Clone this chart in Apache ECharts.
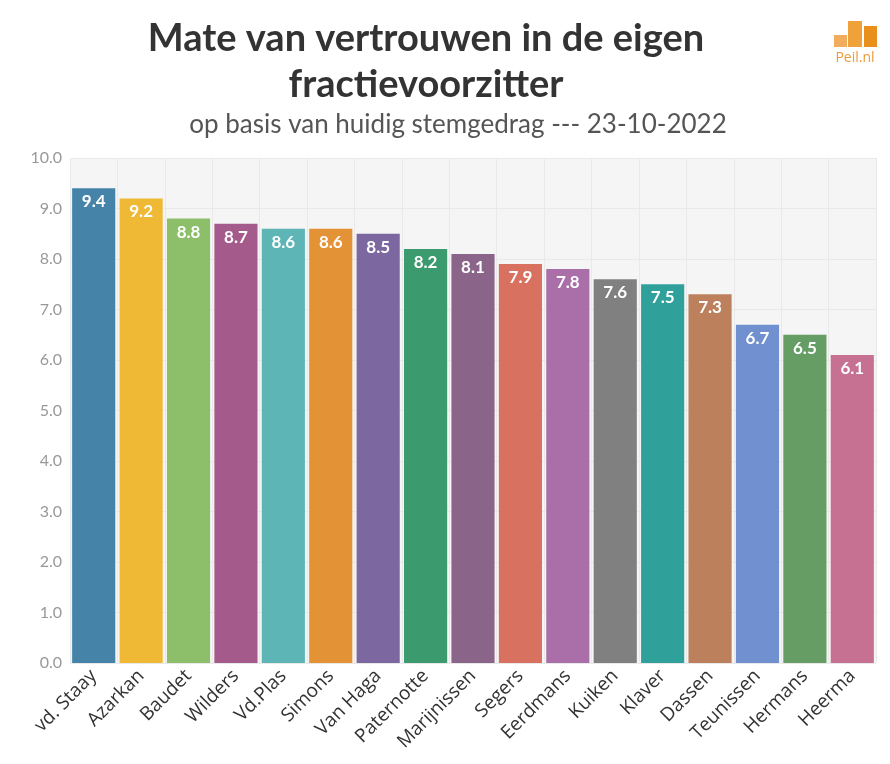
<!DOCTYPE html>
<html><head><meta charset="utf-8">
<script src="https://cdn.jsdelivr.net/npm/echarts@6/dist/echarts.min.js"></script>
<style>html,body{margin:0;padding:0;background:#fff}#c{width:890px;height:764px}</style>
</head><body><div id="c"></div>
<script>
const categories = ["vd. Staay","Azarkan","Baudet","Wilders","Vd.Plas","Simons","Van Haga","Paternotte","Marijnissen","Segers","Eerdmans","Kuiken","Klaver","Dassen","Teunissen","Hermans","Heerma"];
const values = [9.4,9.2,8.8,8.7,8.6,8.6,8.5,8.2,8.1,7.9,7.8,7.6,7.5,7.3,6.7,6.5,6.1];
const colors = ["#4583A8","#EFB935","#8DBE6A","#A45A8A","#5DB5B5","#E39236","#7D67A1","#3C9A6F","#8A6589","#D87160","#AA6EA8","#808080","#30A19A","#BC805D","#7090CF","#659D64","#C77192"];
const yTicks = [0,1,2,3,4,5,6,7,8,9,10];

const chart = echarts.init(document.getElementById('c'), null, {renderer:'canvas'});
chart.setOption({
  animation:false,
  title:[
    {text:"Mate van vertrouwen in de eigen\nfractievoorzitter", left:421, top:11, textAlign:'center',
     textStyle:{fontFamily:'Lato', fontWeight:'bold', fontSize:38, color:'#333', lineHeight:46}},
    {text:"op basis van huidig stemgedrag --- 23-10-2022", left:453, top:107, textAlign:'center',
     textStyle:{fontFamily:'Lato', fontWeight:'normal', fontSize:26, color:'#555', lineHeight:26}}
  ],
  grid:{left:70, right:14, top:158, bottom:101, show:true, backgroundColor:'#f5f5f5', borderWidth:0},
  xAxis:[
    {type:'category', data:categories, axisLine:{show:false}, axisTick:{show:false},
     axisLabel:{rotate:45, margin:10, fontFamily:'Open Sans', fontSize:19, color:'#333', interval:0}},
    {type:'value', min:-0.5, max:16.5, interval:1, show:true, position:'bottom',
     axisLine:{show:false}, axisTick:{show:false}, axisLabel:{show:false},
     splitLine:{show:true, lineStyle:{color:'#e9e9e9', width:1}}}
  ],
  yAxis:{type:'value', min:0, max:10, interval:1,
    axisLine:{show:false}, axisTick:{show:false},
    axisLabel:{fontFamily:'Lato', fontSize:16, color:'#999', margin:8, formatter:v=>yTicks.includes(v)?v.toFixed(1):''},
    splitLine:{show:true, lineStyle:{color:'#e9e9e9', width:1}}},
  series:[{type:'bar', data:values.map((v,i)=>({value:v, itemStyle:{color:colors[i]}})),
    barCategoryGap:'9%',
    label:{show:true, position:'insideTop', distance:5, color:'#fff', fontFamily:'Lato', fontWeight:'bold', fontSize:17,
      formatter:p=>p.value.toFixed(1)}}],
  graphic:[
    {type:'rect', shape:{x:834,y:35,width:13,height:12}, style:{fill:'#F2AC5E'}},
    {type:'rect', shape:{x:848,y:21,width:14,height:26}, style:{fill:'#F0A23A'}},
    {type:'rect', shape:{x:864,y:26,width:13,height:21}, style:{fill:'#E98F1B'}},
    {type:'text', style:{text:'Peil.nl', x:855, y:51, textAlign:'center', fill:'#EE9A3A', fontFamily:'Open Sans', fontSize:14}}
  ]
});
</script></body></html>
